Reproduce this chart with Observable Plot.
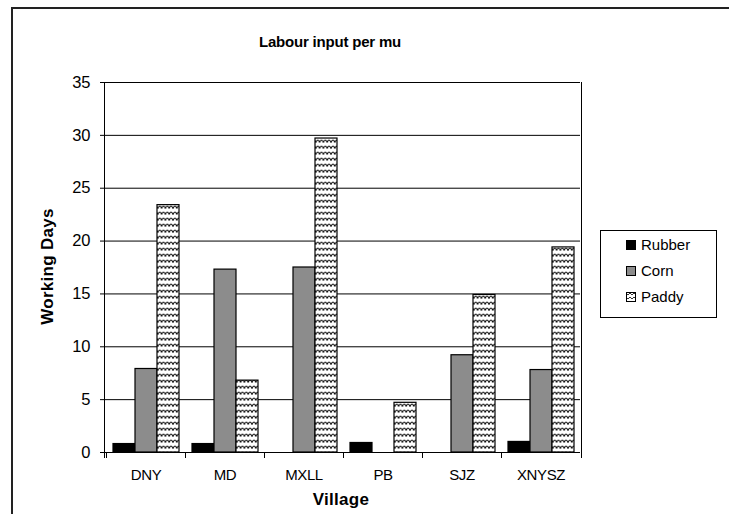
<!DOCTYPE html>
<html>
<head>
<meta charset="utf-8">
<script src="https://cdn.jsdelivr.net/npm/d3@7"></script>
<script src="https://cdn.jsdelivr.net/npm/@observablehq/plot@0.6"></script>
<style>
  body { margin: 0; background: #fff; font-family: "Liberation Sans", Arial, sans-serif; }
  #wrap { position: relative; width: 729px; height: 514px; overflow: hidden; background: #fff; }
  #border { position: absolute; left: 11px; top: 7px; width: 760px; height: 560px; border: 2px solid #222; box-sizing: border-box; }
  #chart { position: absolute; left: 0; top: 0; }
  #overlay { position: absolute; left: 0; top: 0; pointer-events: none; }
  #chart [aria-label="fx-axis tick label"] { font-size: 15px; letter-spacing: -0.4px; }
  #chart [aria-label="y-axis tick label"] { font-size: 16.5px; }
</style>
</head>
<body>
<div id="wrap">
  <div id="border"></div>
  <div id="chart"></div>
  <svg id="overlay" width="729" height="514" font-family="Liberation Sans, Arial, sans-serif">
    <defs>
      <pattern id="zigzagLegend" patternUnits="userSpaceOnUse" width="4" height="4">
        <rect width="4" height="4" fill="#fff"></rect>
        <path d="M0,3 L2,1 L4,3" fill="none" stroke="#000" stroke-width="0.8"></path>
      </pattern>
    </defs>
  </svg>
</div>
<script>
// ---- data ----
const villages = ["DNY", "MD", "MXLL", "PB", "SJZ", "XNYSZ"];
const crops = ["Rubber", "Corn", "Paddy"];
const rubber = [0.8, 0.8, 0, 0.9, 0, 1.0];
const corn = [7.9, 17.3, 17.5, 0, 9.2, 7.8];
const paddy = [23.4, 6.8, 29.7, 4.7, 14.9, 19.4];
const yTicks = [0, 5, 10, 15, 20, 25, 30, 35];
const cropFills = ["#000000", "#8c8c8c", "url(#zigzag)"];
const titleText = "Labour input per mu";
const yLabel = "Working Days";
const xLabel = "Village";

const series = { Rubber: rubber, Corn: corn, Paddy: paddy };
const data = villages.flatMap((v, i) => crops.map(c => ({ village: v, crop: c, value: series[c][i] })))
  .filter(d => d.value > 0);

const chart = Plot.plot({
  width: 729,
  height: 514,
  marginLeft: 104,
  marginRight: 148,
  marginTop: 82,
  marginBottom: 62,
  style: { fontFamily: "Liberation Sans, Arial, sans-serif", fontSize: "17px", color: "#000", background: "transparent", overflow: "visible" },
  facet: { data, x: "village" },
  fx: { domain: villages, padding: 0, axis: "bottom", label: null, tickSize: 0, tickPadding: 17 },
  x: { domain: crops, paddingInner: 0, paddingOuter: 0.28, axis: null },
  y: { domain: [0, 35], ticks: yTicks, tickSize: 6, tickPadding: 10, label: null, tickFormat: d => String(d) },
  color: { domain: crops, range: cropFills },
  marks: [
    Plot.ruleY(yTicks, { stroke: "#000", strokeWidth: 1 }),
    Plot.barY(data, { x: "crop", y: "value", fill: "crop", stroke: "#000", strokeWidth: 1.2 })
  ]
});
document.getElementById("chart").appendChild(chart);

// pattern for paddy bars
const svg = d3.select(chart);
const defs = svg.insert("defs", ":first-child");
const pat = defs.append("pattern").attr("id", "zigzag").attr("patternUnits", "userSpaceOnUse")
  .attr("width", 7.6).attr("height", 6);
pat.append("rect").attr("width", 7.6).attr("height", 6).attr("fill", "#fff");
pat.append("path").attr("d", "M0,4.6 Q1.9,-0.6 3.8,4.6 M3.8,4.6 Q5.7,-0.6 7.6,4.6")
  .attr("fill", "none").attr("stroke", "#111").attr("stroke-width", 1.2);

// axis line, category boundary ticks and right border, placed with the plot's scales
const fx = chart.scale("fx");
const y = chart.scale("y");
const y0 = y.apply(0), yTop = y.apply(35);
const xStart = fx.range[0], xEnd = fx.range[1];
const g = svg.append("g").attr("stroke", "#000").attr("stroke-width", 1).attr("shape-rendering", "crispEdges");
g.append("line").attr("x1", xStart).attr("x2", xStart).attr("y1", yTop).attr("y2", y0 + 6);
g.append("line").attr("x1", xEnd).attr("x2", xEnd).attr("y1", yTop).attr("y2", y0 + 6);
villages.forEach(v => {
  const xb = fx.apply(v);
  g.append("line").attr("x1", xb).attr("x2", xb).attr("y1", y0).attr("y2", y0 + 6);
});

// titles and legend
const ov = d3.select("#overlay");
ov.append("text").attr("x", 330).attr("y", 46.5).attr("text-anchor", "middle")
  .attr("font-weight", "bold").attr("font-size", 15).attr("letter-spacing", "-0.2px").text(titleText);
ov.append("text").attr("transform", "translate(52.5,266.5) rotate(-90)").attr("text-anchor", "middle")
  .attr("font-weight", "bold").attr("font-size", 17).attr("letter-spacing", "0.3px").text(yLabel);
ov.append("text").attr("x", 341).attr("y", 505).attr("text-anchor", "middle")
  .attr("font-weight", "bold").attr("font-size", 17).attr("letter-spacing", "0.3px").text(xLabel);

const legendFills = ["#000000", "#8c8c8c", "url(#zigzagLegend)"];
const lg = ov.append("g");
lg.append("rect").attr("x", 600.5).attr("y", 230.5).attr("width", 116).attr("height", 87)
  .attr("fill", "#fff").attr("stroke", "#000");
crops.forEach((c, i) => {
  const cy = 245 + i * 26;
  lg.append("rect").attr("x", 626.5).attr("y", cy - 4.5).attr("width", 9).attr("height", 9)
    .attr("fill", legendFills[i]).attr("stroke", "#000");
  lg.append("text").attr("x", 641).attr("y", cy + 5.4).attr("font-size", 15).text(c);
});
</script>
</body>
</html>
